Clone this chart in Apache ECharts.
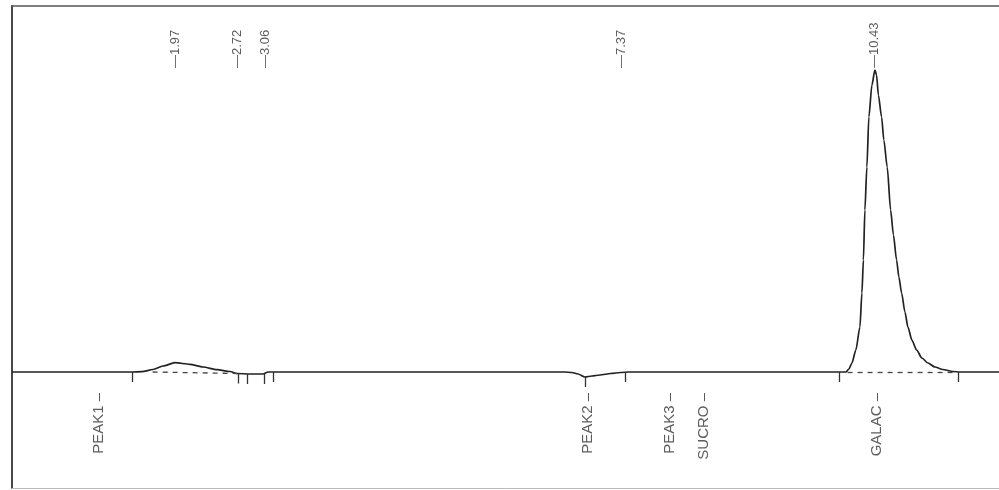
<!DOCTYPE html>
<html>
<head>
<meta charset="utf-8">
<script src="https://cdn.jsdelivr.net/npm/echarts@6/dist/echarts.min.js"></script>
<style>html,body{margin:0;padding:0;background:#fff}#c{width:999px;height:490px}</style>
</head>
<body>
<div id="c"></div>
<script>
// Retention time (min) and detector signal (arbitrary units)
const times = [0, 1.45, 1.571, 1.704, 1.825, 1.97, 2.151, 2.308, 2.478, 2.635,
  2.719, 2.876, 3.034, 3.094,
  6.684, 6.768, 6.841, 6.925, 7.010, 7.107, 7.235, 7.356, 7.453,
  10.007, 10.080, 10.116, 10.152, 10.200, 10.249, 10.273, 10.291, 10.309, 10.333,
  10.357, 10.394, 10.43, 10.450, 10.472, 10.511, 10.538, 10.579, 10.620, 10.654,
  10.692, 10.720, 10.753, 10.793, 10.829, 10.877, 10.934, 10.998, 11.071, 11.155,
  11.252, 11.373, 11.458, 11.93];
const signal = [0, 0, 0.3, 2.5, 6, 9.3, 7.7, 5, 2.3, 0.5,
  -1.5, -2, -2, 0,
  0, -0.5, -2, -5, -4, -3, -1.5, -0.5, 0,
  0, 0, 3, 9, 22, 45, 79, 112, 162, 205,
  255, 287, 302, 297, 277, 255, 232, 205, 162, 137,
  112, 95, 79, 60, 45, 32, 22, 14, 9, 5,
  2.5, 0.5, 0, 0];

// Retention time labels (top)
const rtLabels = ['1.97', '2.72', '3.06', '7.37', '10.43'];
const rtTimes = [1.97, 2.72, 3.06, 7.37, 10.43];

// Named compound windows (bottom)
const compoundNames = ['PEAK1', 'PEAK2', 'PEAK3', 'SUCRO', 'GALAC'];
const compoundTimes = [1.05, 6.96, 7.95, 8.36, 10.45];

// Integration event markers
const eventTimes = [1.45, 2.73, 2.84, 3.046, 3.154, 6.925, 7.409, 9.995, 11.434];
const eventLevels = [0, -1.5, -2, -2, 0, -5, 0, 0, 0];

// Integration baselines
const baselineSegs = [[[1.70, 0], [2.72, -1.5]], [[10.10, 0], [11.37, 0]]];

const xMin = 0, xMax = 11.93;
const yMin = -116, yMax = 366;

const chart = echarts.init(document.getElementById('c'), null, {renderer: 'canvas'});
const lineData = times.map((t, i) => [t, signal[i]]);
const tickLen = 10;

chart.setOption({
  animation: false,
  backgroundColor: '#fff',
  grid: {left: 12, right: 0, top: 6, bottom: 2},
  xAxis: [
    {type: 'value', min: xMin, max: xMax, position: 'bottom',
     axisLine: {show: true, onZero: false, lineStyle: {color: '#bbb', width: 1}},
     axisTick: {show: false}, axisLabel: {show: false}, splitLine: {show: false}},
    {type: 'value', min: xMin, max: xMax, position: 'top',
     axisLine: {show: true, onZero: false, lineStyle: {color: '#555', width: 1.5}},
     axisTick: {show: false}, axisLabel: {show: false}, splitLine: {show: false}}
  ],
  yAxis: {type: 'value', min: yMin, max: yMax,
    axisLine: {show: true, onZero: false, lineStyle: {color: '#333', width: 1.8}},
    axisTick: {show: false}, axisLabel: {show: false}, splitLine: {show: false}},
  series: [
    {type: 'line', data: lineData, showSymbol: false, smooth: 0.25, smoothMonotone: 'x',
     lineStyle: {color: '#222', width: 1.7},
     markLine: {silent: true, symbol: 'none', label: {show: false},
       data: eventTimes.map((t, i) => [
         {coord: [t, eventLevels[i]], lineStyle: {color: '#333', width: 1.3, type: 'solid'}},
         {coord: [t, eventLevels[i] - tickLen]}
       ]).concat(baselineSegs.map(s => [
         {coord: s[0], lineStyle: {color: '#444', width: 1.3, type: [5, 5]}},
         {coord: s[1]}
       ]))
     }},
    {type: 'scatter', symbolSize: 0, silent: true,
     data: rtTimes.map((t, i) => ({value: [t, 304], name: rtLabels[i]})),
     label: {show: true, position: [0, 0], rotate: 90, align: 'left', verticalAlign: 'middle',
       formatter: p => '\u2014' + p.name,
       fontFamily: 'Liberation Sans, Arial, sans-serif', fontSize: 13, color: '#333'}},
    {type: 'scatter', symbolSize: 0, silent: true,
     data: compoundTimes.map((t, i) => ({value: [t, -21], name: compoundNames[i]})),
     label: {show: true, position: [0, 0], rotate: 90, align: 'right', verticalAlign: 'middle',
       formatter: p => p.name + ' \u2013',
       fontFamily: 'Liberation Sans, Arial, sans-serif', fontSize: 15, color: '#333'}}
  ]
});
</script>
</body>
</html>
